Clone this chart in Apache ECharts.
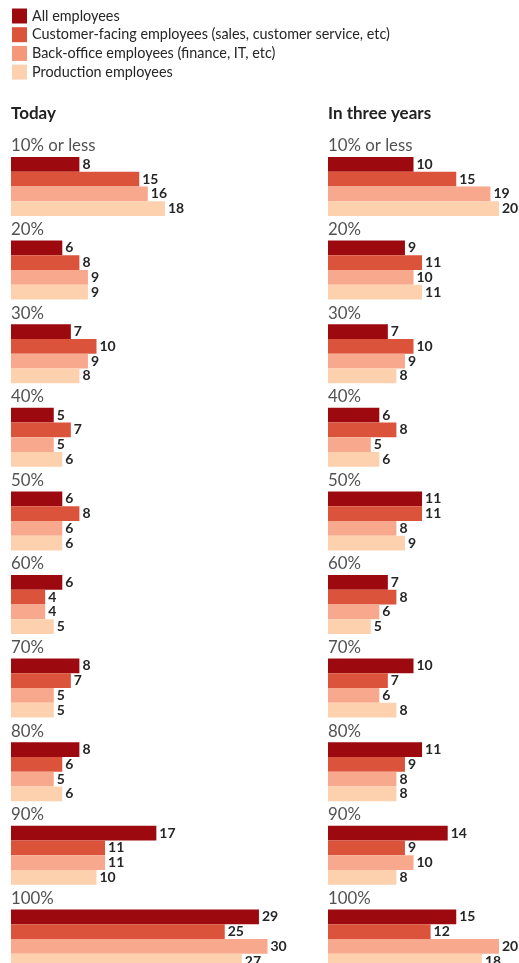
<!DOCTYPE html>
<html>
<head>
<meta charset="utf-8">
<script src="https://cdn.jsdelivr.net/npm/echarts@6/dist/echarts.min.js"></script>
<style>
  html, body { margin: 0; padding: 0; background: #fff; overflow: hidden; }
  #chart { width: 519px; height: 1000px; }
</style>
</head>
<body>
<div id="chart"></div>
<script>
// Share of workforce groups, by proportion band
const categories = ['10% or less', '20%', '30%', '40%', '50%', '60%', '70%', '80%', '90%', '100%'];
const seriesNames = [
  'All employees',
  'Customer-facing employees (sales, customer service, etc)',
  'Back-office employees (finance, IT, etc)',
  'Production employees'
];
const panelTitles = ['Today', 'In three years'];

const todayAll        = [8, 6, 7, 5, 6, 6, 8, 8, 17, 29];
const todayCustomer   = [15, 8, 10, 7, 8, 4, 7, 6, 11, 25];
const todayBackOffice = [16, 9, 9, 5, 6, 4, 5, 5, 11, 30];
const todayProduction = [18, 9, 8, 6, 6, 5, 5, 6, 10, 27];

const futureAll        = [10, 9, 7, 6, 11, 7, 10, 11, 14, 15];
const futureCustomer   = [15, 11, 10, 8, 11, 8, 7, 9, 9, 12];
const futureBackOffice = [19, 10, 9, 5, 8, 6, 6, 8, 10, 20];
const futureProduction = [20, 11, 8, 6, 9, 5, 8, 8, 8, 18];

const barColors = ['#9c0a0f', '#dc533b', '#f8a88c', '#fdd1ae'];
const legendColors = ['#9c0a0f', '#dc533b', '#f4977b', '#fdd0b0'];

const FONT = "Lato, 'Noto Sans', sans-serif";
const TEXT = '#262626';

const panels = [
  [todayAll, todayCustomer, todayBackOffice, todayProduction],
  [futureAll, futureCustomer, futureBackOffice, futureProduction]
];
// Both panels share the same scale (about 8.55 px per point)
const gridLefts = [11, 328];
const axisMax = [30, 20];
const gridWidths = [256.5, 171];

const grid = [], xAxis = [], yAxis = [], series = [], title = [];
panels.forEach((data, p) => {
  grid.push({ left: gridLefts[p], top: 144.7, width: gridWidths[p], height: 836, containLabel: false });
  xAxis.push({ gridIndex: p, type: 'value', min: 0, max: axisMax[p], show: false });
  yAxis.push({ gridIndex: p, type: 'category', data: categories, inverse: true, show: false });
  title.push({
    text: panelTitles[p], left: gridLefts[p], top: 105.5,
    padding: 0,
    textStyle: { fontFamily: FONT, fontSize: 17, fontWeight: 'bold', color: '#222' }
  });
  data.forEach((vals, s) => {
    series.push({
      name: seriesNames[s], type: 'bar', xAxisIndex: p, yAxisIndex: p,
      data: vals, barWidth: 14.75, barGap: 0,
      itemStyle: { color: barColors[s] },
      label: {
        show: true, position: 'right', distance: 3,
        fontFamily: FONT, fontSize: 14, fontWeight: 'bold', color: '#262626'
      },
      emphasis: { disabled: true },
      animation: false
    });
  });
  // Band labels drawn above each group of bars
  series.push({
    type: 'scatter', xAxisIndex: p, yAxisIndex: p, symbolSize: 0,
    data: categories.map((c, i) => [0, i]),
    label: {
      show: true, position: 'right', distance: 0, offset: [0, -40.5],
      formatter: (d) => categories[d.data[1]],
      fontFamily: FONT, fontSize: 16.8, color: TEXT
    },
    silent: true, animation: false
  });
});

const chart = echarts.init(document.getElementById('chart'), null, { renderer: 'canvas' });
chart.setOption({
  backgroundColor: '#ffffff',
  animation: false,
  title,
  legend: {
    orient: 'vertical', left: 12, top: 8.5, padding: 0,
    itemWidth: 15, itemHeight: 15, itemGap: 3.7,
    icon: 'rect',
    selectedMode: false,
    textStyle: { fontFamily: FONT, fontSize: 14.4, color: TEXT, lineHeight: 15 },
    data: seriesNames.map((n, i) => ({ name: n, itemStyle: { color: legendColors[i] } }))
  },
  grid, xAxis, yAxis, series
});
</script>
</body>
</html>
